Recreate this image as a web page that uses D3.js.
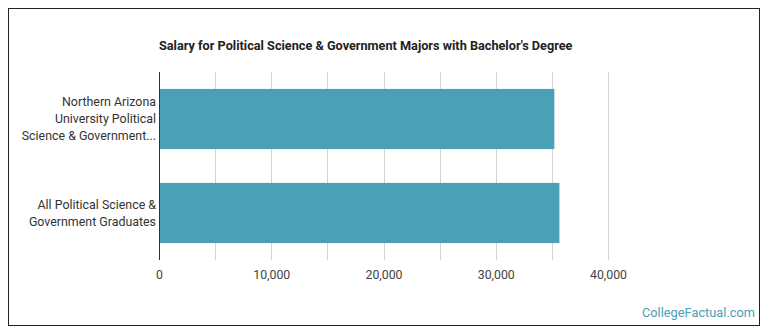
<!DOCTYPE html>
<html>
<head>
<meta charset="utf-8">
<script src="https://cdn.jsdelivr.net/npm/d3@7"></script>
<style>
  html, body { margin: 0; padding: 0; background: #fff; }
  svg { display: block; font-family: Roboto, "Noto Sans", sans-serif; }
</style>
</head>
<body>
<svg id="chart" width="770" height="335"></svg>
<script>
const title = "Salary for Political Science & Government Majors with Bachelor's Degree";
const categories = [
  ["Northern Arizona", "University Political", "Science & Government..."],
  ["All Political Science &", "Government Graduates"]
];
const values = [35220, 35670];
const xTickValues = [0, 10000, 20000, 30000, 40000];
const gridValues = [0, 5000, 10000, 15000, 20000, 25000, 30000, 35000, 40000];
const watermark = "CollegeFactual.com";

const svg = d3.select("#chart");

svg.append("rect")
  .attr("x", 8.5).attr("y", 8.5).attr("width", 751).attr("height", 317)
  .attr("fill", "#fff").attr("stroke", "#222").attr("stroke-width", 1);

const x = d3.scaleLinear().domain([0, 40000]).range([159, 608]);
const y = d3.scaleBand().domain(d3.range(categories.length))
  .range([72, 260]).paddingInner(0.36).paddingOuter(0.18);

// gridlines
svg.append("g").selectAll("line").data(gridValues).join("line")
  .attr("x1", d => Math.round(x(d)) + 0.5).attr("x2", d => Math.round(x(d)) + 0.5)
  .attr("y1", 72).attr("y2", 260)
  .attr("stroke", "#d4d4d4").attr("stroke-width", 1);

// bars
svg.append("g").selectAll("rect").data(values).join("rect")
  .attr("x", x(0))
  .attr("y", (d, i) => y(i))
  .attr("width", d => x(d) - x(0))
  .attr("height", y.bandwidth())
  .attr("fill", "#4aa0b4");

// axis line
svg.append("line")
  .attr("x1", x(0) + 0.5).attr("x2", x(0) + 0.5)
  .attr("y1", 72).attr("y2", 260)
  .attr("stroke", "#333").attr("stroke-width", 1);

// x axis labels
const xAxis = d3.axisBottom(x).tickValues(xTickValues).tickFormat(d3.format(",")).tickSize(0).tickPadding(0);
const gx = svg.append("g").attr("transform", "translate(0,270)").call(xAxis);
gx.select(".domain").remove();
gx.selectAll("text").attr("font-size", 12.3).attr("fill", "#444")
  .attr("font-family", "Roboto, sans-serif").attr("dy", "0.71em");

// y labels
const lh = 17;
categories.forEach((lines, i) => {
  const cy = y(i) + y.bandwidth() / 2;
  const t = svg.append("text").attr("text-anchor", "end")
    .attr("font-size", 12.4).attr("fill", "#333");
  lines.forEach((ln, j) => {
    t.append("tspan").attr("x", 156)
      .attr("y", cy + (j - (lines.length - 1) / 2) * lh)
      .attr("dy", "0.35em").text(ln);
  });
});

// title
svg.append("text").attr("x", 159).attr("y", 50)
  .attr("font-size", 12.7).attr("font-weight", "bold").attr("fill", "#222")
  .text(title);

// watermark
svg.append("text").attr("x", 755).attr("y", 317)
  .attr("text-anchor", "end").attr("font-size", 12.8).attr("fill", "#4aa0b4")
  .text(watermark);
</script>
</body>
</html>
